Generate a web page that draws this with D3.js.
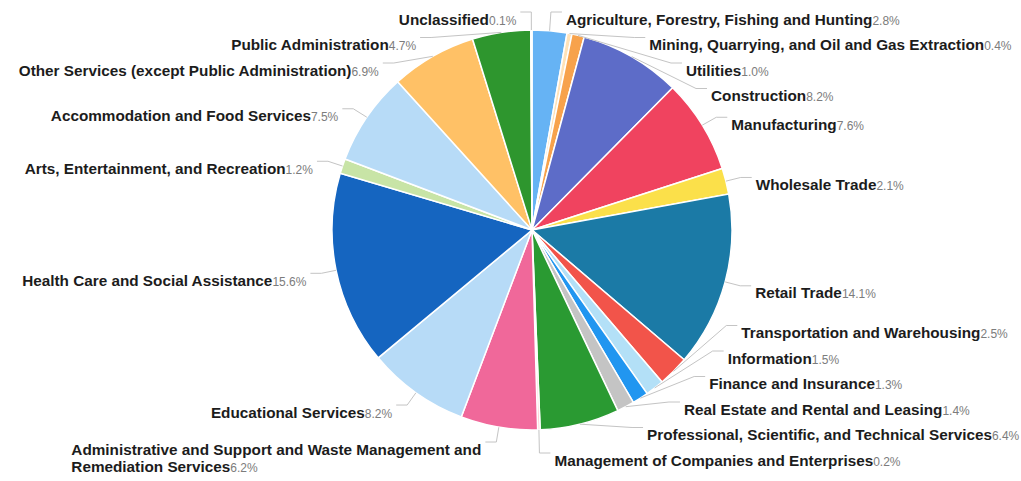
<!DOCTYPE html>
<html lang="en">
<head>
<meta charset="UTF-8">
<title>Employment by Industry</title>
<script src="https://d3js.org/d3.v7.min.js"></script>
<style>
    body { margin: 0; background: #fff; }
    .name { font-family: "Liberation Sans", Arial, sans-serif; font-weight: bold; font-size: 15.3px; fill: #1c1c1c; }
    .pct { font-family: "Liberation Sans", Arial, sans-serif; font-weight: normal; font-size: 12px; fill: #7c7c7c; }
    .guide { fill: none; stroke: #c4c4c4; stroke-width: 1; }
</style>
</head>
<body>
<svg id="chart" width="1021" height="481"></svg>

<script>
// Industry names, clockwise from 12 o'clock.
const industries = [
    "Agriculture, Forestry, Fishing and Hunting",
    "Mining, Quarrying, and Oil and Gas Extraction",
    "Utilities",
    "Construction",
    "Manufacturing",
    "Wholesale Trade",
    "Retail Trade",
    "Transportation and Warehousing",
    "Information",
    "Finance and Insurance",
    "Real Estate and Rental and Leasing",
    "Professional, Scientific, and Technical Services",
    "Management of Companies and Enterprises",
    "Administrative and Support and Waste Management and Remediation Services",
    "Educational Services",
    "Health Care and Social Assistance",
    "Arts, Entertainment, and Recreation",
    "Accommodation and Food Services",
    "Other Services (except Public Administration)",
    "Public Administration",
    "Unclassified"
];

// Share of employment, percent.
const shares = [2.8, 0.4, 1.0, 8.2, 7.6, 2.1, 14.1, 2.5, 1.5, 1.3, 1.4,
                6.4, 0.2, 6.2, 8.2, 15.6, 1.2, 7.5, 6.9, 4.7, 0.1];

const palette = [
    "#66b3f4", "#ffe2b8", "#f7a24c", "#5d6cc8", "#f0435f", "#fbe04a", "#1b7aa6",
    "#f2544a", "#b3e0f7", "#2196f0", "#c4c4c4", "#2a9a32", "#ffcdd2", "#f0689a",
    "#b7dbf7", "#1565c0", "#c8e4a6", "#b7dbf7", "#ffc166", "#2e962e", "#e0e0e0"
];

const cx = 532, cy = 230, radius = 200;
const len1 = 15, len2 = 15;          // leader line lengths
const rowH = 25.5, lineH = 17.5;     // label spacing, wrapped line height
const textDrop = 7;                  // text sits a little below its guide line
const yTop = 12, yBottom = 453;      // limits for label guide positions
const maxLabelWidth = 412;

const svg = d3.select("#chart");
const fmt = d3.format(".1f");

const data = industries.map((name, i) => ({name: name, value: shares[i], color: palette[i]}));
const arcs = d3.pie().sort(null).value(d => d.value)(data);
const arc = d3.arc().innerRadius(0).outerRadius(radius);

// Slices
svg.append("g")
    .attr("transform", `translate(${cx},${cy})`)
    .selectAll("path")
    .data(arcs)
    .enter().append("path")
    .attr("d", arc)
    .attr("fill", d => d.data.color)
    .attr("stroke", "#fff")
    .attr("stroke-width", 1.5);

// Measure text so long names can wrap.
const probe = svg.append("text").attr("x", -1000).attr("y", -1000);
const probeName = probe.append("tspan").attr("class", "name");
const probePct = probe.append("tspan").attr("class", "pct");
function measure(name, pct) {
    probeName.text(name);
    probePct.text(pct);
    return probe.node().getComputedTextLength();
}

const labels = arcs.map(a => {
    const mid = (a.startAngle + a.endAngle) / 2;
    const sx = Math.sin(mid), sy = -Math.cos(mid);
    const pct = fmt(a.data.value) + "%";

    // greedy word wrap
    let lines = [], cur = "";
    if (measure(a.data.name, pct) > maxLabelWidth) {
        a.data.name.split(" ").forEach(w => {
            const test = cur ? cur + " " + w : w;
            if (cur && measure(test, "") > maxLabelWidth) { lines.push(cur); cur = w; }
            else cur = test;
        });
        lines.push(cur);
    } else {
        lines = [a.data.name];
    }
    const widths = lines.map((l, i) => measure(l, i === lines.length - 1 ? pct : ""));

    return {
        pct: pct, lines: lines, blockW: d3.max(widths),
        dir: sx < 0 ? -1 : 1,
        x0: cx + radius * sx, y0: cy + radius * sy,
        x2: cx + (radius + len1) * sx,
        ideal: cy + (radius + len1) * sy,
        h: rowH + (lines.length - 1) * lineH
    };
});
probe.remove();

// Push overlapping labels apart: overlapping ones form clusters centred on their ideal spots.
function spread(list, lo, hi) {
    list.sort((a, b) => a.ideal - b.ideal);
    const clusters = [];
    function place(c) {
        let off = 0, sum = 0;
        c.items.forEach((l, i) => {
            sum += l.ideal - off;
            if (i < c.items.length - 1) off += l.h;
        });
        c.span = off;
        c.start = Math.min(Math.max(sum / c.items.length, lo), hi - c.span);
    }
    list.forEach(l => {
        const c = {items: [l]};
        place(c);
        clusters.push(c);
        while (clusters.length > 1) {
            const last = clusters[clusters.length - 1], prev = clusters[clusters.length - 2];
            const prevEnd = prev.start + prev.span + prev.items[prev.items.length - 1].h;
            if (prevEnd > last.start) {
                prev.items = prev.items.concat(last.items);
                clusters.pop();
                place(prev);
            } else break;
        }
    });
    clusters.forEach(c => {
        let y = c.start;
        c.items.forEach(l => { l.y = y; y += l.h; });
    });
}

// Put the labels of each half of a side on an ellipse through the outermost one.
function alignX(list, dir) {
    const rA = radius + len1;
    [list.filter(l => l.y < cy), list.filter(l => l.y >= cy)].forEach(semi => {
        if (!semi.length) return;
        const ext = semi.reduce((m, l) => Math.abs(l.y - cy) > Math.abs(m.y - cy) ? l : m);
        const edy = Math.abs(ext.y - cy), edx = Math.abs(ext.x2 - cx);
        const rB = edx < rA ? edy / Math.sqrt(1 - edx * edx / (rA * rA)) : rA;
        semi.forEach(l => {
            const dy = Math.abs(l.y - cy);
            const dx = rA * Math.sqrt(Math.max(0, 1 - dy * dy / (rB * rB)));
            l.x = cx + dir * (dx + len2);
        });
    });
}

[1, -1].forEach(dir => {
    const side = labels.filter(l => l.dir === dir);
    spread(side, yTop, yBottom);
    alignX(side, dir);
});

// Leader lines
svg.append("g").selectAll("polyline")
    .data(labels)
    .enter().append("polyline")
    .attr("class", "guide")
    .attr("points", l => [
        [l.x0, l.y0],
        [l.x - l.dir * len2, l.y],
        [l.x - l.dir * 4, l.y]
    ].map(p => p.join(",")).join(" "));

// Label text: bold name, grey percentage
const lg = svg.append("g");
labels.forEach(l => {
    const left = l.dir < 0 ? l.x - l.blockW : l.x;
    l.lines.forEach((line, i) => {
        const t = lg.append("text")
            .attr("x", left)
            .attr("y", l.y + textDrop + i * lineH)
            .attr("dy", "0.35em");
        t.append("tspan").attr("class", "name").text(line);
        if (i === l.lines.length - 1) t.append("tspan").attr("class", "pct").text(l.pct);
    });
});
</script>
</body>
</html>
